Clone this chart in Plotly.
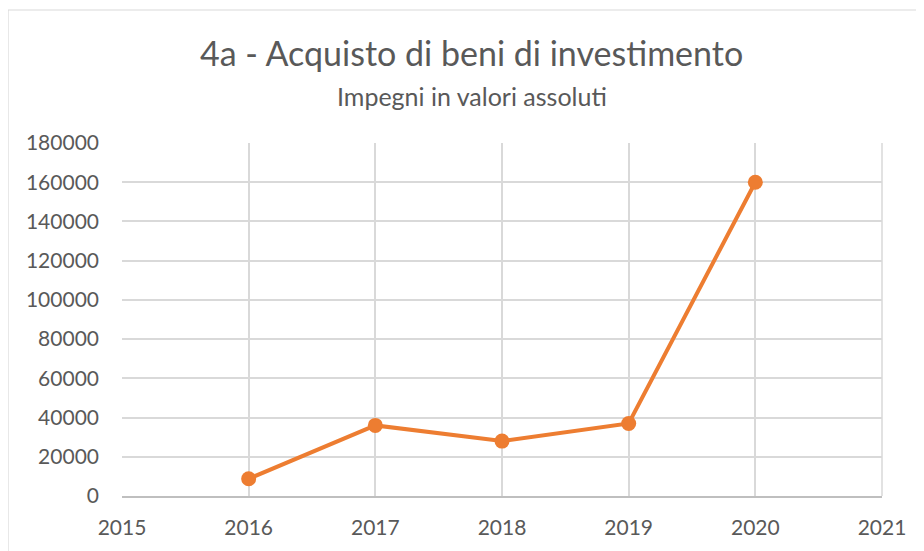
import plotly.graph_objects as go

years = [2016, 2017, 2018, 2019, 2020]
impegni = [8800, 36000, 28000, 37000, 160000]
x_ticks = [2015, 2016, 2017, 2018, 2019, 2020, 2021]
y_ticks = [0, 20000, 40000, 60000, 80000, 100000, 120000, 140000, 160000, 180000]

title_text = "4a - Acquisto di beni di investimento"
subtitle_text = "Impegni in valori assoluti"

# page body has an 8px margin; positions below are in figure pixels
OFF = 8
W, H = 924, 551
L, R, T, B = 122 - OFF, 50, 143 - OFF, 63
pw, ph = W - L - R, H - T - B

FONT = "Lato"
GRAY = "#595959"
GRID = "#d9d9d9"
ORANGE = "#ED7D31"

fig = go.Figure()
fig.add_trace(go.Scatter(
    x=years, y=impegni, mode="lines+markers",
    line=dict(color=ORANGE, width=4),
    marker=dict(color=ORANGE, size=15),
    showlegend=False, hoverinfo="x+y",
))

def px_x(p):
    return (p - OFF - L) / pw

def px_y(p):
    return (H - B - (p - OFF)) / ph

fig.add_shape(type="rect", xref="paper", yref="paper",
              x0=px_x(8), x1=px_x(W + 40), y0=px_y(H + 40), y1=px_y(10),
              line=dict(color=GRID, width=1.2), layer="below")

fig.add_annotation(text=title_text, xref="paper", yref="paper",
                   x=px_x(471), y=px_y(52), xanchor="center", yanchor="middle",
                   showarrow=False, font=dict(family=FONT, size=34, color=GRAY))
fig.add_annotation(text=subtitle_text, xref="paper", yref="paper",
                   x=px_x(472), y=px_y(96), xanchor="center", yanchor="middle",
                   showarrow=False, font=dict(family=FONT, size=25, color=GRAY))

fig.update_xaxes(range=[2015, 2021], tickmode="array", tickvals=x_ticks,
                 ticktext=[str(v) for v in x_ticks], automargin=False,
                 showgrid=True, gridcolor=GRID, gridwidth=1.5,
                 showline=True, linecolor="#bfbfbf", linewidth=1.5, mirror=False,
                 zeroline=False, ticks="", ticklabelstandoff=12,
                 tickfont=dict(family=FONT, size=21, color=GRAY))
fig.update_yaxes(range=[0, 180000], tickmode="array", tickvals=y_ticks,
                 ticktext=[str(v) for v in y_ticks], automargin=False,
                 showgrid=True, gridcolor=GRID, gridwidth=1.5,
                 showline=False, zeroline=False, ticks="", ticklabelstandoff=22,
                 tickfont=dict(family=FONT, size=21, color=GRAY))

fig.add_shape(type="line", xref="paper", yref="paper", x0=1, x1=1, y0=0, y1=1,
              line=dict(color=GRID, width=1.5), layer="below")

fig.update_layout(width=W, height=H, margin=dict(l=L, r=R, t=T, b=B),
                  paper_bgcolor="white", plot_bgcolor="white",
                  font=dict(family=FONT, color=GRAY))

fig.write_html("out.html")
